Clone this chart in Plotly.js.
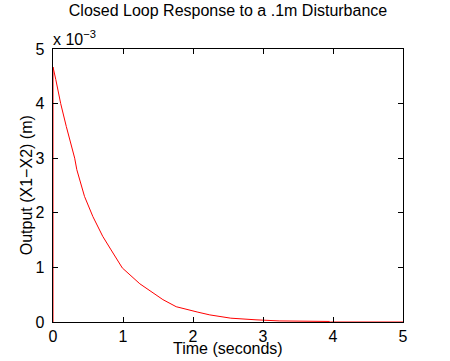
<!DOCTYPE html>
<html>
<head>
<meta charset="utf-8">
<script src="https://cdn.plot.ly/plotly-3.0.1.min.js"></script>
<style>html,body{margin:0;padding:0;background:#fff;}#chart{width:450px;height:361px;}</style>
</head>
<body>
<div id="chart"></div>
<script>
// Time (seconds)
const timeS = [0, 0, 0.04, 0.11, 0.19, 0.28, 0.31, 0.34, 0.45, 0.57, 0.71, 0.83, 0.99, 1.24, 1.57, 1.76, 1.90, 2.07, 2.24, 2.54, 2.9, 3.23, 3.95, 3.96, 5];
// Output (X1-X2) in units of 1e-3 m
const outputE3 = [0, 4.67, 4.44, 4.0, 3.58, 3.16, 3.0, 2.79, 2.30, 1.93, 1.57, 1.32, 0.99, 0.70, 0.41, 0.28, 0.23, 0.18, 0.13, 0.07, 0.04, 0.02, 0.01, 0, 0];
const xTicks = [0, 1, 2, 3, 4, 5];
const yTicks = [0, 1, 2, 3, 4, 5];

const fam = 'Liberation Sans, Arial, Helvetica, sans-serif';
const font = {family: fam, color: '#000', size: 16};

const trace = {
  x: timeS, y: outputE3, type: 'scatter', mode: 'lines',
  line: {color: '#ff0000', width: 1}, hoverinfo: 'none'
};

const axisBase = {
  showline: true, linecolor: '#000', linewidth: 1, mirror: 'ticks',
  ticks: 'inside', ticklen: 5, tickcolor: '#000', tickwidth: 1,
  showgrid: false, zeroline: false, tickfont: font, fixedrange: true
};

const layout = {
  width: 450, height: 361,
  margin: {l: 53, r: 47, t: 49, b: 39},
  paper_bgcolor: '#fff', plot_bgcolor: '#fff',
  font: font,
  showlegend: false,
  title: {text: 'Closed Loop Response to a .1m Disturbance', font: {family: fam, size: 16, color: '#000'},
          x: 0.5, xref: 'paper', y: 0.97, yref: 'container', xanchor: 'center', yanchor: 'middle'},
  xaxis: Object.assign({}, axisBase, {
    range: [0, 5], tickvals: xTicks, ticktext: xTicks.map(String)
  }),
  yaxis: Object.assign({}, axisBase, {
    range: [0, 5], tickvals: yTicks, ticktext: yTicks.map(v => v + '\u00a0')
  }),
  annotations: [
    {text: 'x 10<sup>\u22123</sup>', xref: 'paper', yref: 'paper', x: 0, y: 1,
     xanchor: 'left', yanchor: 'bottom', showarrow: false, font: font, xshift: -2, yshift: -1},
    {text: 'Time (seconds)', xref: 'paper', yref: 'paper', x: 0.5, y: -0.097,
     xanchor: 'center', yanchor: 'middle', showarrow: false, font: font},
    {text: 'Output (X1\u2212X2) (m)', xref: 'paper', yref: 'paper', x: -0.075, y: 0.5,
     xanchor: 'center', yanchor: 'middle', textangle: -90, showarrow: false, font: font}
  ]
};

Plotly.newPlot('chart', [trace], layout, {displayModeBar: false, staticPlot: true});
</script>
</body>
</html>
